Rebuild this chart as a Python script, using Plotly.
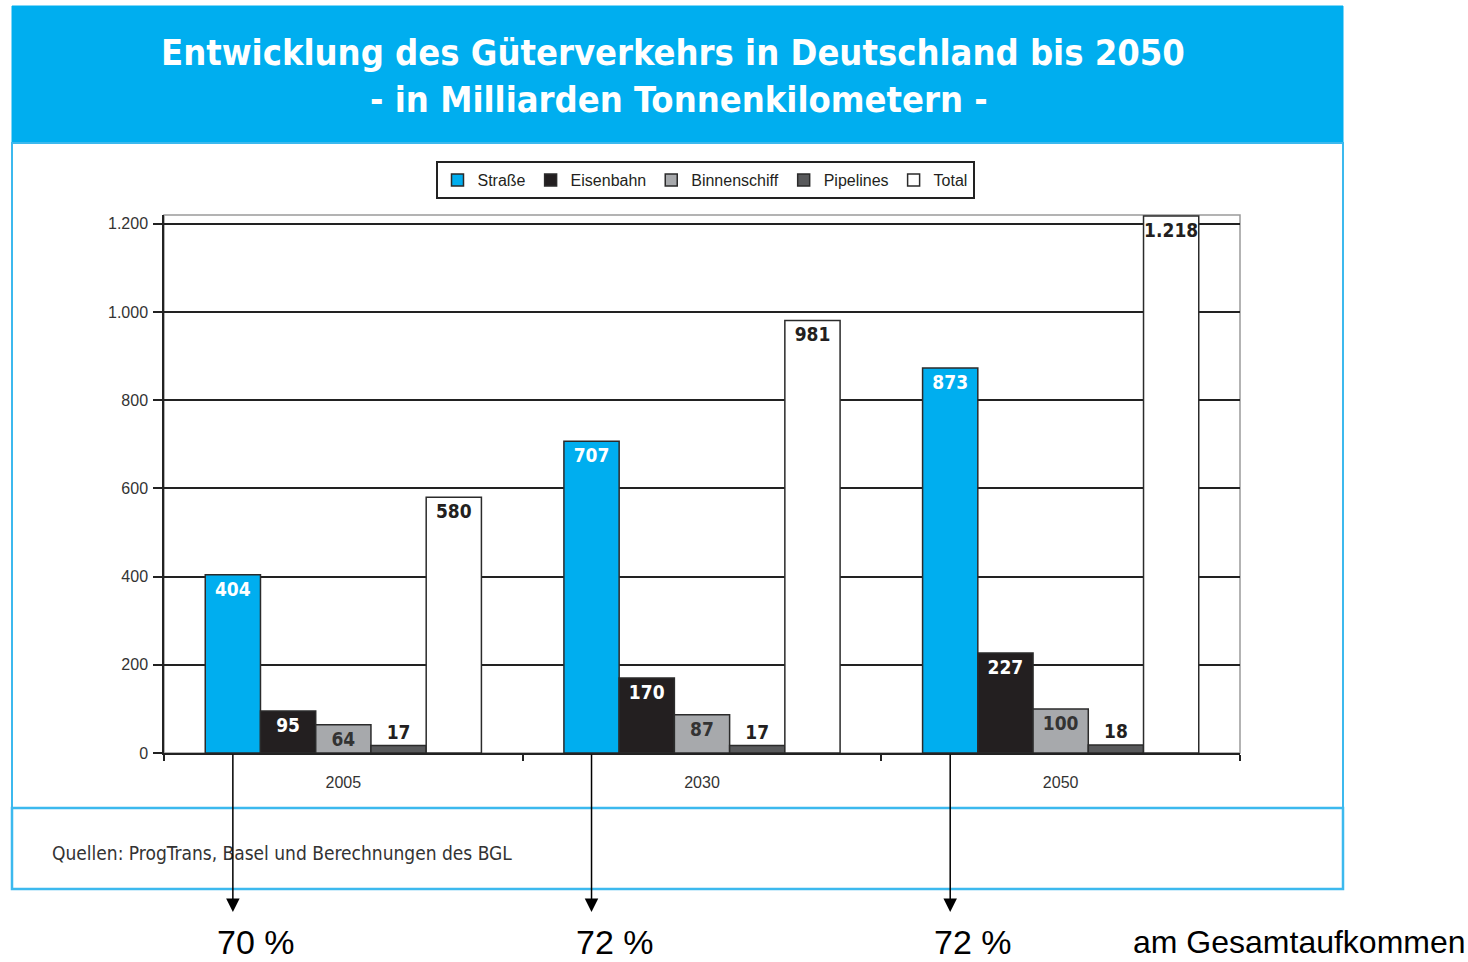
import plotly.graph_objects as go

years = ["2005", "2030", "2050"]
series_names = ["Straße", "Eisenbahn", "Binnenschiff", "Pipelines", "Total"]
strasse = [404, 707, 873]
eisenbahn = [95, 170, 227]
binnenschiff = [64, 87, 100]
pipelines = [17, 17, 18]
total = [580, 981, 1218]
y_ticks = [0, 200, 400, 600, 800, 1000, 1200]

values = [strasse, eisenbahn, binnenschiff, pipelines, total]
colors = ["#00AEEF", "#231F20", "#A7A9AC", "#58595B", "#FFFFFF"]
text_colors = ["#FFFFFF", "#FFFFFF", "#333333", "#231F20", "#231F20"]
positions = ["inside", "inside", "inside", "outside", "inside"]

W, H = 1468, 962
L, R, T, B = 164, 1240, 215, 753
BARGAP = 0.23

def fmt(v):
    return f"{v:,}".replace(",", ".")

def px2x(p):
    return (p - L) / (R - L)

def py2y(p):
    return (B - p) / (B - T)

fig = go.Figure()
for name, vals, c, tc, pos in zip(series_names, values, colors, text_colors, positions):
    fig.add_trace(go.Bar(
        name=name, x=years, y=vals,
        marker=dict(color=c, line=dict(color="#2b2b2b", width=1.5)),
        text=[fmt(v) for v in vals],
        textposition=pos,
        insidetextanchor="end",
        textangle=0,
        constraintext="none",
        cliponaxis=False,
        textfont=dict(family="DejaVu Sans Condensed", size=19, color=tc, weight="bold"),
        hoverinfo="skip",
    ))

cat_w = (R - L) / len(years)
bar_w = cat_w * (1 - BARGAP) / len(series_names)
road_shift = -2 * bar_w

shapes = [
    dict(type="rect", xref="paper", yref="paper", x0=px2x(12), x1=px2x(1343),
         y0=py2y(143), y1=py2y(6), fillcolor="#00AEEF", line=dict(color="#00AEEF", width=1), layer="below"),
    dict(type="rect", xref="paper", yref="paper", x0=px2x(12), x1=px2x(1343),
         y0=py2y(808), y1=py2y(143), line=dict(color="#3CB9EE", width=2), layer="below"),
    dict(type="rect", xref="paper", yref="paper", x0=px2x(12), x1=px2x(1343),
         y0=py2y(889), y1=py2y(808), line=dict(color="#3CB9EE", width=2.5), layer="below"),
    dict(type="rect", xref="paper", yref="paper", x0=0, x1=1, y0=0, y1=1,
         line=dict(color="#9a9a9a", width=1.5), layer="below"),
]

annotations = [
    dict(xref="paper", yref="paper", x=px2x(673), y=py2y(52), xanchor="center", yanchor="middle",
         showarrow=False, text="Entwicklung des Güterverkehrs in Deutschland bis 2050",
         font=dict(family="DejaVu Sans Condensed", size=36, color="white", weight="bold")),
    dict(xref="paper", yref="paper", x=px2x(679), y=py2y(100), xanchor="center", yanchor="middle",
         showarrow=False, text="- in Milliarden Tonnenkilometern -",
         font=dict(family="DejaVu Sans Condensed", size=36, color="white", weight="bold")),
    dict(xref="paper", yref="paper", x=px2x(50), y=py2y(853), xanchor="left", yanchor="middle",
         showarrow=False, text="Quellen: ProgTrans, Basel und Berechnungen des BGL",
         font=dict(family="DejaVu Sans Condensed", size=19, color="#333333")),
    dict(xref="paper", yref="paper", x=px2x(1299), y=py2y(942), xanchor="center", yanchor="middle",
         showarrow=False, text="am Gesamtaufkommen", borderpad=0,
         font=dict(family="Liberation Sans", size=32, color="black")),
]

for i, (s, t) in enumerate(zip(strasse, total)):
    annotations.append(dict(
        xref="x", yref="y", x=i, y=0, xshift=road_shift, yshift=-159,
        text="", showarrow=True, ax=0, ay=-159,
        arrowhead=2, arrowsize=1.8, arrowwidth=1.5, arrowcolor="black", standoff=0,
    ))
    annotations.append(dict(
        xref="x", yref="paper", x=i, y=py2y(942), xshift=road_shift + 23,
        xanchor="center", yanchor="middle", borderpad=0,
        text=f"{round(100 * s / t)} %", showarrow=False,
        font=dict(family="Liberation Sans", size=34, color="black"),
    ))

fig.update_layout(
    width=W, height=H, autosize=False,
    margin=dict(l=L, r=W - R, t=T, b=H - B, pad=0),
    barmode="group", bargap=BARGAP, bargroupgap=0,
    separators=",.",
    paper_bgcolor="white", plot_bgcolor="rgba(0,0,0,0)",
    font=dict(family="Liberation Sans", color="#333333"),
    showlegend=True,
    legend=dict(orientation="h", x=px2x(705), y=py2y(180), xanchor="center", yanchor="middle",
                bordercolor="#222222", borderwidth=2, bgcolor="white",
                font=dict(family="Liberation Sans", size=16, color="#231F20"),
                itemwidth=30, tracegroupgap=0),
    shapes=shapes,
    annotations=annotations,
    xaxis=dict(type="category", range=[-0.5, len(years) - 0.5], autorange=False,
               showgrid=False, showline=True, linecolor="#222222", linewidth=1.5,
               ticks="outside", tickson="boundaries", ticklen=6, tickcolor="#222222", tickwidth=1.5,
               ticklabelstandoff=14,
               tickangle=0, tickfont=dict(size=16, color="#333333")),
    yaxis=dict(range=[0, 1220], autorange=False, tickvals=y_ticks, separatethousands=True,
               showgrid=True, gridcolor="#222222", gridwidth=1.5,
               showline=True, linecolor="#222222", linewidth=1.5, zeroline=False,
               ticks="outside", ticklen=9, tickcolor="#222222", tickwidth=1.5,
               ticklabelstandoff=2,
               tickfont=dict(size=16, color="#333333")),
)

fig.write_html("out.html", config={"displayModeBar": False},
               post_script="document.body.style.margin='0';")
